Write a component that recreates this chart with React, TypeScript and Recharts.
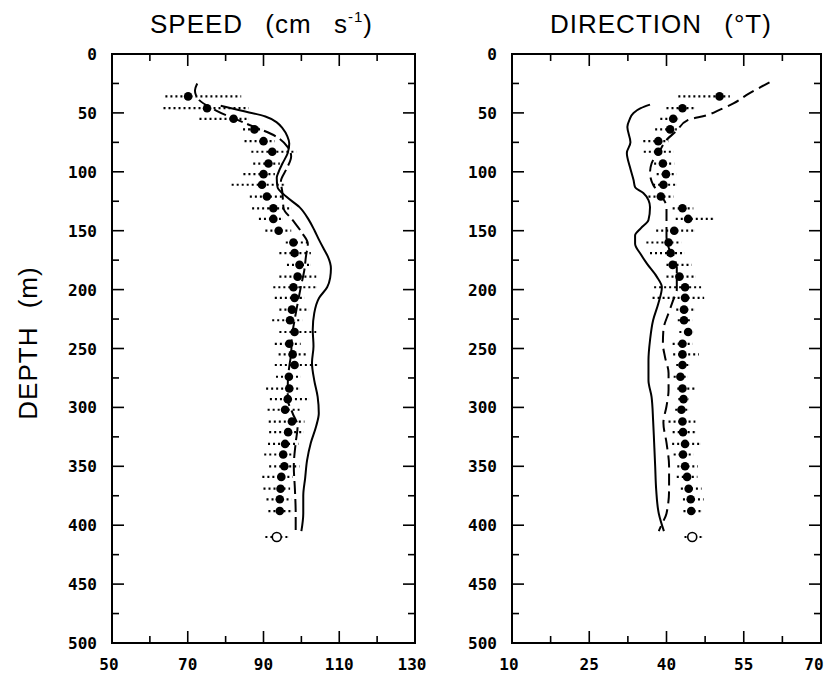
import { ScatterChart, Scatter, XAxis, YAxis, ErrorBar, ReferenceArea } from 'recharts';

// depth (m) of the filled-circle means
const DEPTHS = [36, 46, 55, 64, 74, 83, 93, 102, 111, 121, 131, 140, 150, 160, 169, 179, 189, 198, 207, 217, 226, 236, 246, 255, 264, 274, 284, 293, 302, 312, 321, 331, 340, 350, 359, 369, 378, 388];

// speed (cm/s)
const SPEED_MEAN = [70.1, 75.1, 82.1, 87.6, 90, 92.3, 91.3, 90, 89.6, 90.9, 92.6, 92.6, 94, 97.9, 98.2, 99.5, 99, 97.9, 98.2, 97.5, 97, 98.2, 96.8, 97.7, 98.2, 96.7, 96.8, 96.4, 95.7, 97.5, 96.5, 95.7, 95.2, 95.5, 94.7, 94.5, 94.3, 94.3];
const SPEED_LOW = [6, 11.5, 9, 3, 5, 5.5, 4, 5.3, 8, 4.5, 5.6, 3.8, 3.5, 2, 4, 3.3, 4.8, 5.3, 5.2, 3.3, 4.7, 4, 3.8, 3.7, 5.2, 3.4, 6.1, 4.7, 4.6, 6.1, 5, 4.5, 5, 4, 5, 4.5, 3.5, 3];
const SPEED_HIGH = [14, 11, 4, 2, 3, 6.3, 3, 3, 6, 4, 4.7, 2.4, 3.3, 4, 4.3, 3, 4.9, 6, 2.6, 4.5, 3.2, 5.7, 3, 3.5, 6.1, 3.1, 2.7, 5.6, 3.8, 3.3, 4, 3.5, 3, 4, 3, 2.5, 3, 3];

// direction (deg T)
const DIR_MEAN = [50.3, 43.1, 41.3, 40.7, 38.4, 38.4, 39.3, 39.9, 39.4, 38.9, 43.1, 44.2, 41.5, 40.4, 40.8, 41.2, 42.5, 43.6, 43.6, 43.4, 43.4, 44.2, 43.1, 43.1, 43.1, 42.7, 43.1, 43.3, 42.9, 43.1, 43.2, 43.6, 43.2, 43.6, 44, 44.3, 44.7, 44.8];
const DIR_LOW = [8, 3.1, 2.5, 2.9, 2.9, 2.8, 1.7, 1.8, 2, 2.4, 1.9, 2.4, 3.5, 4.3, 4, 1.2, 2.5, 6, 6.3, 1.5, 1.2, 1.7, 1.9, 1.8, 1.2, 1.3, 1, 1, 1.2, 2.7, 2, 2.5, 1.8, 1.5, 2, 1.5, 1.5, 1.5];
const DIR_HIGH = [2, 2.4, 1, 1.3, 2, 2.9, 2.2, 2, 2.5, 2.5, 2.1, 4.9, 4, 2.5, 2.6, 3.7, 3.2, 3.1, 3.7, 2, 1.6, 1, 2, 3.2, 1.3, 1.3, 2.4, 1, 1.3, 2.5, 2.5, 3, 2, 2.5, 2, 2.5, 2.5, 2];

// open circle near the bottom
const OPEN_DEPTH = [410];
const SPEED_OPEN = [93.5];
const DIR_OPEN = [45];
const OPEN_SPEED_ERR = [3, 3];
const OPEN_DIR_ERR = [1.5, 2];

// profile lines
const SPEED_SOLID_DEPTH = [44, 48, 53, 58, 63, 70, 76, 84, 93, 100, 105, 113, 121, 130, 141, 150, 158, 166, 172, 182, 190, 198, 207, 220, 234, 248, 262, 277, 291, 305, 316, 330, 345, 360, 375, 390, 405];
const SPEED_SOLID = [78.7, 84, 90.5, 93.5, 95, 96.3, 96.8, 96.4, 95, 94, 93.5, 93.7, 96, 99.5, 102, 103.5, 104.7, 106, 107, 107.8, 107.6, 106.8, 104.7, 103.4, 103, 103.2, 102.8, 103.4, 104.3, 104.6, 103.9, 102.5, 101.5, 101, 100.5, 100.5, 100];
const SPEED_DASH_DEPTH = [25, 31, 38, 48, 59, 70, 79, 87, 98, 108, 118, 131, 141, 152, 161, 172, 183, 197, 212, 226, 240, 254, 268, 282, 293, 305, 316, 330, 350, 370, 390, 405];
const SPEED_DASH = [72.5, 71.9, 72.7, 77.5, 85.4, 93.3, 96.4, 97.3, 96, 94.6, 95, 95.3, 97.7, 100.2, 101.7, 101.2, 100.8, 99.9, 99, 98.2, 97.5, 97.3, 96.7, 96.4, 96.4, 97.7, 99, 98.5, 98, 98.3, 98.5, 98.5];

const DIR_SOLID_DEPTH = [43, 46, 50, 56, 62, 75, 84, 96, 107, 113, 118, 124, 130, 141, 148, 154, 161, 170, 178, 189, 198, 212, 226, 243, 260, 277, 291, 311, 330, 350, 370, 390, 405];
const DIR_SOLID = [36.8, 35, 33.6, 32.8, 32.4, 33, 32.3, 32.9, 33.6, 33.9, 35.5, 36.5, 36.8, 36.5, 35, 33.9, 33.9, 35, 36.2, 38.1, 39.1, 38.4, 37.4, 36.8, 36.5, 36.5, 37.1, 37.4, 37.6, 37.8, 38, 38.5, 39.5];
const DIR_DASH_DEPTH = [24, 29, 35, 42, 47, 52, 56, 65, 73, 82, 93, 101, 111, 121, 130, 141, 155, 164, 181, 192, 200, 209, 220, 234, 246, 257, 271, 285, 299, 313, 330, 350, 370, 390, 400, 405];
const DIR_DASH = [60, 57.9, 55.5, 53, 50.5, 47.8, 44.2, 42, 40, 38.7, 37.1, 36.8, 37.4, 39.1, 40, 40, 40, 40.4, 42, 42, 42, 41.3, 40.4, 39.4, 39.3, 39.7, 40.4, 40.4, 40, 39.4, 40, 40.5, 40.5, 40, 39, 38.5];

// axis ticks
const DEPTH_TICKS = [0, 25, 50, 75, 100, 125, 150, 175, 200, 225, 250, 275, 300, 325, 350, 375, 400, 425, 450, 475, 500];
const SPEED_TICKS = [50, 60, 70, 80, 90, 100, 110, 120, 130];
const SPEED_LABELS = [50, 70, 90, 110, 130];
const DIR_TICKS = [10, 17.5, 25, 32.5, 40, 47.5, 55, 62.5, 70];
const DIR_LABELS = [10, 25, 40, 55, 70];

const pairs = (depths: number[], vals: number[]) => depths.map((d, i) => ({ x: vals[i], y: d }));

const TICK_FONT = { fontFamily: '"DejaVu Sans Mono", monospace', fontWeight: 700, fontSize: 16 };

type Box = { left: number; right: number; top: number; bottom: number };

const xTick = (box: Box, labels: number[], lastShift: number) => (props: any) => {
  const { x, payload } = props;
  const v = payload.value;
  const major = labels.includes(v);
  const len = major ? 12 : 7;
  const atLeft = Math.abs(x - box.left) < 1;
  const atRight = Math.abs(x - box.right) < 1;
  const edge = atLeft || atRight;
  const lx = atRight ? x - lastShift : atLeft ? x - 3 : x;
  return (
    <g>
      {!edge && <line x1={x} x2={x} y1={box.bottom} y2={box.bottom - len} stroke="#000" strokeWidth={1.6} />}
      {!edge && <line x1={x} x2={x} y1={box.top} y2={box.top + len} stroke="#000" strokeWidth={1.6} />}
      {major && (
        <text x={lx} y={box.bottom + 27} textAnchor="middle" fill="#000" {...TICK_FONT}>
          {v}
        </text>
      )}
    </g>
  );
};

const yTick = (box: Box) => (props: any) => {
  const { y, payload } = props;
  const v = payload.value;
  const major = v % 50 === 0;
  const len = major ? 12 : 7;
  const edge = Math.abs(y - box.top) < 1 || Math.abs(y - box.bottom) < 1;
  return (
    <g>
      {!edge && <line x1={box.left} x2={box.left + len} y1={y} y2={y} stroke="#000" strokeWidth={1.6} />}
      {!edge && <line x1={box.right} x2={box.right - len} y1={y} y2={y} stroke="#000" strokeWidth={1.6} />}
      {major && (
        <text x={box.left - 15} y={y + 6} textAnchor="end" fill="#000" {...TICK_FONT}>
          {v}
        </text>
      )}
    </g>
  );
};

const dotShape = (p: any) => <circle cx={p.cx} cy={p.cy} r={4.3} fill="#000" />;
const openShape = (p: any) => <circle cx={p.cx} cy={p.cy} r={4.5} fill="#fff" stroke="#000" strokeWidth={1.6} />;
const noShape = () => <g />;

function Panel(props: {
  width: number;
  marginLeft: number;
  marginRight: number;
  box: Box;
  domain: [number, number];
  ticks: number[];
  labels: number[];
  lastShift: number;
  mean: number[];
  low: number[];
  high: number[];
  open: number[];
  openErr: number[];
  solid: { x: number; y: number }[];
  dashed: { x: number; y: number }[];
  dash: string;
}) {
  const dots = DEPTHS.map((d, i) => ({ x: props.mean[i], y: d, err: [props.low[i], props.high[i]] }));
  const open = OPEN_DEPTH.map((d, i) => ({ x: props.open[i], y: d, err: props.openErr }));
  return (
    <ScatterChart
      width={props.width}
      height={673}
      margin={{ top: 54, right: props.marginRight, bottom: 0, left: props.marginLeft }}
    >
      <XAxis
        type="number"
        dataKey="x"
        domain={props.domain}
        ticks={props.ticks}
        interval={0}
        allowDataOverflow
        axisLine={false}
        tickLine={false}
        height={30}
        tick={xTick(props.box, props.labels, props.lastShift)}
      />
      <YAxis
        type="number"
        dataKey="y"
        domain={[0, 500]}
        reversed
        ticks={DEPTH_TICKS}
        interval={0}
        allowDataOverflow
        axisLine={false}
        tickLine={false}
        width={60}
        tick={yTick(props.box)}
      />
      <ReferenceArea
        x1={props.domain[0]}
        x2={props.domain[1]}
        y1={0}
        y2={500}
        fill="none"
        fillOpacity={0}
        stroke="#000"
        strokeWidth={2}
      />
      <Scatter
        data={props.solid}
        shape={noShape}
        line={{ stroke: '#000', strokeWidth: 2 }}
        lineJointType="monotoneY"
        isAnimationActive={false}
      />
      <Scatter
        data={props.dashed}
        shape={noShape}
        line={{ stroke: '#000', strokeWidth: 2, strokeDasharray: props.dash }}
        lineJointType="monotoneY"
        isAnimationActive={false}
      />
      <Scatter data={dots} shape={dotShape} isAnimationActive={false}>
        <ErrorBar dataKey="err" direction="x" width={0} stroke="#000" strokeWidth={2.2} strokeDasharray="2 3" isAnimationActive={false} />
      </Scatter>
      <Scatter data={open} shape={openShape} isAnimationActive={false}>
        <ErrorBar dataKey="err" direction="x" width={0} stroke="#000" strokeWidth={2.2} strokeDasharray="2 3" isAnimationActive={false} />
      </Scatter>
    </ScatterChart>
  );
}

export default function App() {
  const titleFont = { fontFamily: '"Liberation Sans", Arial, sans-serif', fontSize: 26, letterSpacing: 1, wordSpacing: 14 };
  return (
    <div style={{ position: 'absolute', left: 0, top: 0, width: 827, height: 673, background: '#fff' }}>
      <div style={{ position: 'absolute', left: 0, top: 0 }}>
        <Panel
          width={440}
          marginLeft={52}
          marginRight={25}
          box={{ left: 112, right: 415, top: 54, bottom: 643 }}
          domain={[50, 130]}
          ticks={SPEED_TICKS}
          labels={SPEED_LABELS}
          lastShift={3}
          mean={SPEED_MEAN}
          low={SPEED_LOW}
          high={SPEED_HIGH}
          open={SPEED_OPEN}
          openErr={OPEN_SPEED_ERR}
          solid={pairs(SPEED_SOLID_DEPTH, SPEED_SOLID)}
          dashed={pairs(SPEED_DASH_DEPTH, SPEED_DASH)}
          dash="13 5"
        />
      </div>
      <div style={{ position: 'absolute', left: 440, top: 0 }}>
        <Panel
          width={387}
          marginLeft={12}
          marginRight={6}
          box={{ left: 72, right: 381, top: 54, bottom: 643 }}
          domain={[10, 70]}
          ticks={DIR_TICKS}
          labels={DIR_LABELS}
          lastShift={7}
          mean={DIR_MEAN}
          low={DIR_LOW}
          high={DIR_HIGH}
          open={DIR_OPEN}
          openErr={OPEN_DIR_ERR}
          solid={pairs(DIR_SOLID_DEPTH, DIR_SOLID)}
          dashed={pairs(DIR_DASH_DEPTH, DIR_DASH)}
          dash="12 6"
        />
      </div>
      <svg width={827} height={673} style={{ position: 'absolute', left: 0, top: 0, pointerEvents: 'none' }}>
        <text x={150} y={33} fill="#000" style={titleFont}>
          SPEED (cm s
          <tspan dy={-11} fontSize={15} style={{ wordSpacing: 0 }}>-1</tspan>
          <tspan dy={11}>)</tspan>
        </text>
        <text x={550} y={33} fill="#000" style={titleFont}>
          DIRECTION (°T)
        </text>
        <text
          x={0}
          y={0}
          transform="translate(37, 343) rotate(-90)"
          textAnchor="middle"
          fill="#000"
          style={{ fontFamily: '"Liberation Sans", Arial, sans-serif', fontSize: 26, letterSpacing: 1, wordSpacing: 10 }}
        >
          DEPTH (m)
        </text>
      </svg>
    </div>
  );
}
